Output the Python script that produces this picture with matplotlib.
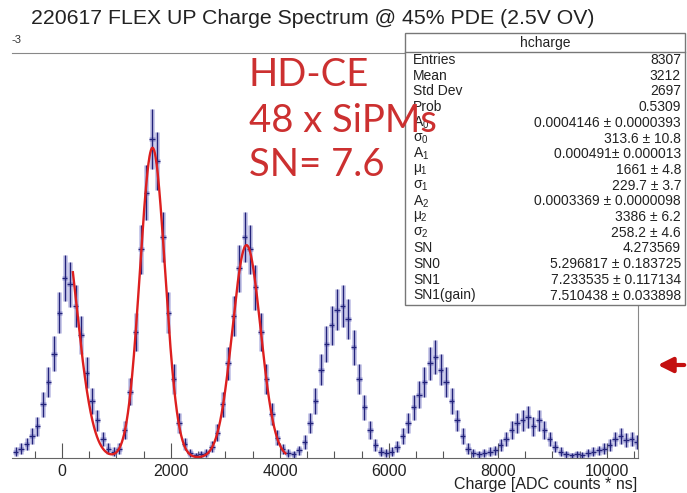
import numpy as np
import matplotlib
matplotlib.use('Agg')
import matplotlib.pyplot as plt
from matplotlib.ticker import MultipleLocator
from matplotlib.patches import Rectangle

# histogram: bin centres every 100 ADC*ns, contents in units of 1e-3
bin_centres = np.arange(-850, 10600, 100)
contents = [
    0.010, 0.015, 0.022, 0.035, 0.050, 0.085, 0.120, 0.165, 0.230, 0.285,   # -850 .. 50
    0.275, 0.240, 0.195, 0.135, 0.090, 0.060, 0.030, 0.015, 0.010, 0.015,   # 150 .. 1050
    0.045, 0.105, 0.200, 0.330, 0.420, 0.505, 0.470, 0.350, 0.230, 0.125,   # 1150 .. 2050
    0.055, 0.022, 0.008, 0.004, 0.006, 0.008, 0.018, 0.040, 0.085, 0.150,   # 2150 .. 3050
    0.225, 0.300, 0.350, 0.330, 0.270, 0.200, 0.125, 0.070, 0.032, 0.014,   # 3150 .. 4050
    0.008, 0.006, 0.012, 0.025, 0.055, 0.090, 0.140, 0.180, 0.210, 0.235,   # 4150 .. 5050
    0.240, 0.220, 0.175, 0.125, 0.080, 0.045, 0.020, 0.010, 0.008, 0.010,   # 5150 .. 6050
    0.018, 0.035, 0.055, 0.080, 0.100, 0.120, 0.150, 0.160, 0.140, 0.120,   # 6150 .. 7050
    0.090, 0.060, 0.035, 0.015, 0.008, 0.006, 0.008, 0.010, 0.012, 0.020,   # 7150 .. 8050
    0.030, 0.045, 0.055, 0.060, 0.065, 0.050, 0.060, 0.045, 0.030, 0.018,   # 8150 .. 9050
    0.010, 0.006, 0.004, 0.006, 0.005, 0.008, 0.010, 0.012, 0.015, 0.020,   # 9150 .. 10050
    0.030, 0.035, 0.028, 0.030, 0.025,                                      # 10150 .. 10550
]

# fit parameters from the stats box (amplitudes in 1e-3)
A0, sigma0, mu0 = 0.4146, 313.6, -60   # mu0 not shown
A1, mu1, sigma1 = 0.491, 1661, 229.7
A2, mu2, sigma2 = 0.3369, 3386, 258.2
fit_range = (200, 4100)

stat_names = ['Entries', 'Mean', 'Std Dev', 'Prob',
              r'A$_0$', r'$\sigma_0$', r'A$_1$', r'$\mu_1$', r'$\sigma_1$',
              r'A$_2$', r'$\mu_2$', r'$\sigma_2$',
              'SN', 'SN0', 'SN1', 'SN1(gain)']
stat_values = ['8307', '3212', '2697', '0.5309',
               '0.0004146 ± 0.0000393', '313.6 ± 10.8',
               '0.000491± 0.000013', '1661 ± 4.8', '229.7 ± 3.7',
               '0.0003369 ± 0.0000098', '3386 ± 6.2', '258.2 ± 4.6',
               '4.273569', '5.296817 ± 0.183725', '7.233535 ± 0.117134',
               '7.510438 ± 0.033898']

plt.rcParams['font.family'] = ['Liberation Sans', 'DejaVu Sans']
plt.rcParams['mathtext.fontset'] = 'custom'
plt.rcParams['mathtext.rm'] = 'Liberation Sans'
plt.rcParams['mathtext.it'] = 'Liberation Sans'

W, H = 687, 493
fx = lambda x: x / W
fy = lambda y: 1 - y / H

fig = plt.figure(figsize=(W / 100, H / 100), dpi=100)
ax = fig.add_axes([fx(12), fy(458), (638 - 12) / W, (458 - 53) / H])

vals = np.array(contents)
errs = np.sqrt(vals / 220)

# blurred halo + sharp error bars
ax.errorbar(bin_centres, vals, xerr=50, yerr=errs, fmt='none',
            ecolor='#6a6ac4', elinewidth=3.6, alpha=0.35)
ax.errorbar(bin_centres, vals, xerr=50, yerr=errs, fmt='none',
            ecolor='#22227a', elinewidth=1.0)

x = np.linspace(fit_range[0], fit_range[1], 600)
fit = (A0 * np.exp(-(x - mu0) ** 2 / (2 * sigma0 ** 2))
       + A1 * np.exp(-(x - mu1) ** 2 / (2 * sigma1 ** 2))
       + A2 * np.exp(-(x - mu2) ** 2 / (2 * sigma2 ** 2)))
ax.plot(x, fit, color='#dd1f1f', lw=1.7)

ax.set_xlim(-917, 10569)
ax.set_ylim(0, 0.641)
ax.spines['left'].set_visible(False)
ax.spines['top'].set_color('#888888')
ax.spines['right'].set_color('#888888')
ax.spines['bottom'].set_color('#666666')
ax.set_yticks([])
ax.set_xticks([0, 2000, 4000, 6000, 8000, 10000])
ax.xaxis.set_minor_locator(MultipleLocator(500))
ax.tick_params(axis='x', which='major', direction='in', length=11, width=0.8,
               colors='#555555', labelcolor='#222222', labelsize=11.5, pad=4)
ax.tick_params(axis='x', which='minor', direction='in', length=5, width=0.8,
               colors='#555555')

fig.text(fx(637), fy(485), 'Charge [ADC counts * ns]', ha='right', va='center',
         fontsize=11.5, color='#222222')
fig.text(fx(313), fy(18), '220617 FLEX UP Charge Spectrum @ 45% PDE (2.5V OV)',
         ha='center', va='center', fontsize=15.3, color='#222222')
fig.text(fx(12), fy(40), '-3', ha='left', va='center', fontsize=8, color='#333333')

# stats box
box = Rectangle((fx(405), fy(305)), fx(685) - fx(405), fy(33) - fy(305),
                transform=fig.transFigure, facecolor='white', edgecolor='#777777',
                lw=1.0, zorder=5)
fig.patches.append(box)
fig.add_artist(plt.Line2D([fx(405), fx(685)], [fy(52), fy(52)],
                          transform=fig.transFigure, color='#777777', lw=1.0, zorder=6))
fig.text(fx(545), fy(43), 'hcharge', ha='center', va='center', fontsize=10,
         color='#222222', zorder=6)
for i, (name, value) in enumerate(zip(stat_names, stat_values)):
    y = 60 + i * 15.7
    fig.text(fx(413), fy(y), name, ha='left', va='center', fontsize=10,
             color='#222222', zorder=6)
    fig.text(fx(681), fy(y), value, ha='right', va='center', fontsize=10,
             color='#222222', zorder=6)

# red annotation
for txt, y in zip(['HD-CE', '48 x SiPMs', 'SN= 7.6'], [75, 121, 165]):
    fig.text(fx(249), fy(y), txt, ha='left', va='center', fontsize=27.5,
             color='#cc3030', family='Lato', zorder=8)

ax.annotate('', xy=(655, H - 365), xytext=(687, H - 365),
            xycoords='figure pixels', textcoords='figure pixels',
            arrowprops=dict(arrowstyle='-|>', color='#c41010', lw=3,
                            mutation_scale=22))

fig.savefig('out.png', dpi=100)
